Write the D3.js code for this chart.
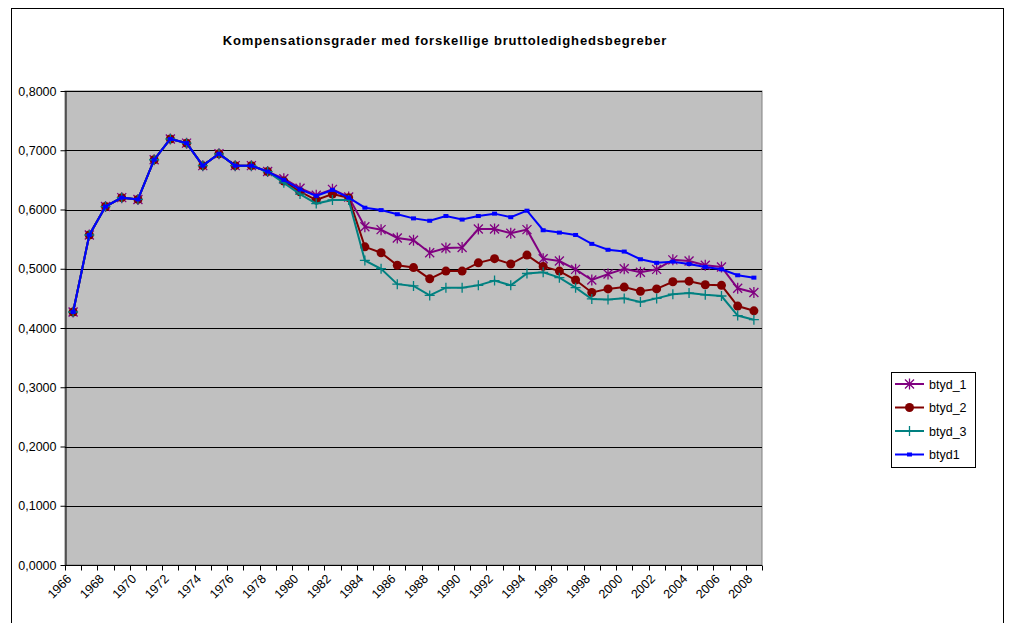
<!DOCTYPE html>
<html>
<head>
<meta charset="utf-8">
<script src="https://cdn.jsdelivr.net/npm/d3@7"></script>
<style>
  body { margin: 0; background: #fff; }
  text { font-family: "Liberation Sans", Arial, sans-serif; }
</style>
</head>
<body>
<div id="chart"></div>
<script>
const years = d3.range(1966, 2009);
const yTicks = [0, 0.1, 0.2, 0.3, 0.4, 0.5, 0.6, 0.7, 0.8];

// common start 1966-1977
const early = [0.427, 0.557, 0.605, 0.620, 0.617, 0.684, 0.719, 0.712, 0.674, 0.694, 0.674, 0.674];

const btyd_1 = early.concat([0.664, 0.652, 0.636, 0.624, 0.634, 0.621, 0.571, 0.566, 0.552, 0.548,
  0.527, 0.535, 0.536, 0.567, 0.567, 0.560, 0.566, 0.517, 0.513, 0.499, 0.481, 0.491, 0.500,
  0.494, 0.499, 0.515, 0.513, 0.506, 0.503, 0.467, 0.460]);
const btyd_2 = early.concat([0.664, 0.648, 0.630, 0.616, 0.626, 0.620, 0.537, 0.527, 0.506, 0.502,
  0.483, 0.496, 0.496, 0.510, 0.517, 0.508, 0.523, 0.504, 0.496, 0.481, 0.460, 0.466, 0.469,
  0.462, 0.466, 0.478, 0.479, 0.473, 0.472, 0.437, 0.429]);
const btyd_3 = early.concat([0.664, 0.645, 0.626, 0.610, 0.616, 0.616, 0.514, 0.500, 0.474, 0.471,
  0.455, 0.468, 0.468, 0.472, 0.480, 0.472, 0.492, 0.494, 0.485, 0.468, 0.449, 0.448, 0.450,
  0.444, 0.450, 0.457, 0.459, 0.456, 0.454, 0.421, 0.414]);
const btyd1 = early.concat([0.664, 0.650, 0.634, 0.623, 0.633, 0.620, 0.603, 0.599, 0.592, 0.585,
  0.581, 0.589, 0.583, 0.589, 0.593, 0.587, 0.598, 0.565, 0.561, 0.557, 0.542, 0.532, 0.529,
  0.516, 0.510, 0.512, 0.508, 0.503, 0.499, 0.489, 0.485]);

const series = [
  { name: "btyd_1", color: "#800080", symbol: "star", values: btyd_1 },
  { name: "btyd_2", color: "#800000", symbol: "circle", values: btyd_2 },
  { name: "btyd_3", color: "#008080", symbol: "plus", values: btyd_3 },
  { name: "btyd1", color: "#0000FF", symbol: "square", values: btyd1 }
];

const svgWidth = 1014;
const svgHeight = 623;
const plot = { left: 65, right: 762, top: 91, bottom: 565 };

const svg = d3.select("#chart")
  .append("svg")
  .attr("width", svgWidth)
  .attr("height", svgHeight);

// chart area border
svg.append("rect")
  .attr("x", 11.5).attr("y", 8.5)
  .attr("width", 992).attr("height", 640)
  .attr("fill", "#fff")
  .attr("stroke", "#000");

const x = d3.scaleBand()
  .domain(years)
  .range([plot.left, plot.right]);

const y = d3.scaleLinear()
  .domain([0, 0.8])
  .range([plot.bottom, plot.top]);

svg.append("rect")
  .attr("x", plot.left).attr("y", plot.top)
  .attr("width", plot.right - plot.left)
  .attr("height", plot.bottom - plot.top)
  .attr("fill", "#C0C0C0")
  .attr("stroke", "#808080");

// gridlines
svg.append("g")
  .selectAll("line")
  .data(yTicks.filter(d => d > 0))
  .enter()
  .append("line")
  .attr("x1", plot.left).attr("x2", plot.right)
  .attr("y1", d => Math.round(y(d)) + 0.5)
  .attr("y2", d => Math.round(y(d)) + 0.5)
  .attr("stroke", "#000");

// y axis
const yAxis = svg.append("g")
  .attr("transform", `translate(${plot.left + 0.5}, 0)`)
  .call(d3.axisLeft(y).tickValues(yTicks).tickSize(5).tickSizeOuter(0)
    .tickFormat(d => d3.format(".4f")(d).replace(".", ",")));
yAxis.select(".domain").attr("stroke", "#000");
yAxis.selectAll(".tick line").attr("stroke", "#000");
yAxis.selectAll(".tick text")
  .attr("x", -9)
  .attr("font-size", 12.5)
  .attr("font-family", "Liberation Sans, Arial, sans-serif")
  .attr("fill", "#000");

// x axis: ticks on category boundaries
const xAxisG = svg.append("g")
  .attr("transform", `translate(0, ${plot.bottom + 0.5})`);
xAxisG.append("line")
  .attr("x1", plot.left).attr("x2", plot.right)
  .attr("stroke", "#000");
xAxisG.selectAll("line.tick")
  .data(years.concat([2009]))
  .enter()
  .append("line")
  .attr("class", "tick")
  .attr("x1", d => Math.round(d === 2009 ? plot.right : x(d)) + 0.5)
  .attr("x2", d => Math.round(d === 2009 ? plot.right : x(d)) + 0.5)
  .attr("y1", 0).attr("y2", 5)
  .attr("stroke", "#000");
xAxisG.selectAll("text")
  .data(years.filter(d => d % 2 === 0))
  .enter()
  .append("text")
  .attr("transform", d => `translate(${x(d) + x.bandwidth() / 2 - 7}, 8) rotate(-45)`)
  .attr("text-anchor", "end")
  .attr("dy", "0.7em")
  .attr("font-size", 12.5)
  .text(d => d);

// title
svg.append("text")
  .attr("x", 445)
  .attr("y", 45)
  .attr("text-anchor", "middle")
  .attr("font-size", 13)
  .attr("letter-spacing", 0.85)
  .attr("font-weight", "bold")
  .text("Kompensationsgrader med forskellige bruttoledighedsbegreber");

const line = d3.line()
  .x((d, i) => x(years[i]) + x.bandwidth() / 2)
  .y(d => y(d));

function drawSymbol(g, symbol, color, cx, cy) {
  if (symbol === "star") {
    const r = 4.5;
    g.append("path")
      .attr("d", `M${cx - r},${cy - r}L${cx + r},${cy + r}M${cx - r},${cy + r}L${cx + r},${cy - r}M${cx},${cy - r - 1}L${cx},${cy + r + 1}`)
      .attr("stroke", color).attr("stroke-width", 1.3).attr("fill", "none");
  } else if (symbol === "circle") {
    g.append("circle")
      .attr("cx", cx).attr("cy", cy).attr("r", 4.5)
      .attr("fill", color);
  } else if (symbol === "plus") {
    const r = 5;
    g.append("path")
      .attr("d", `M${cx - r},${cy}L${cx + r},${cy}M${cx},${cy - r}L${cx},${cy + r}`)
      .attr("stroke", color).attr("stroke-width", 1.3).attr("fill", "none");
  } else if (symbol === "square") {
    g.append("rect")
      .attr("x", cx - 2.5).attr("y", cy - 2).attr("width", 5).attr("height", 4)
      .attr("fill", color);
  }
}

series.forEach(s => {
  const g = svg.append("g");
  g.append("path")
    .datum(s.values)
    .attr("fill", "none")
    .attr("stroke", s.color)
    .attr("stroke-width", 2)
    .attr("d", line);
  s.values.forEach((v, i) => {
    drawSymbol(g, s.symbol, s.color, x(years[i]) + x.bandwidth() / 2, y(v));
  });
});

// legend
function drawLegend(svg) {
  const lx = 891, ly = 372, lw = 84, lh = 95;
  svg.append("rect")
    .attr("x", lx + 0.5).attr("y", ly + 0.5)
    .attr("width", lw).attr("height", lh)
    .attr("fill", "#fff")
    .attr("stroke", "#000");
  series.forEach((s, i) => {
    const yy = ly + 12 + i * 23.5;
    const g = svg.append("g");
    g.append("line")
      .attr("x1", lx + 4).attr("x2", lx + 33)
      .attr("y1", yy).attr("y2", yy)
      .attr("stroke", s.color).attr("stroke-width", 2);
    drawSymbol(g, s.symbol, s.color, lx + 18.5, yy);
    g.append("text")
      .attr("x", lx + 38)
      .attr("y", yy + 4.5)
      .attr("font-size", 12.5)
      .text(s.name);
  });
}

drawLegend(svg);
</script>
</body>
</html>
